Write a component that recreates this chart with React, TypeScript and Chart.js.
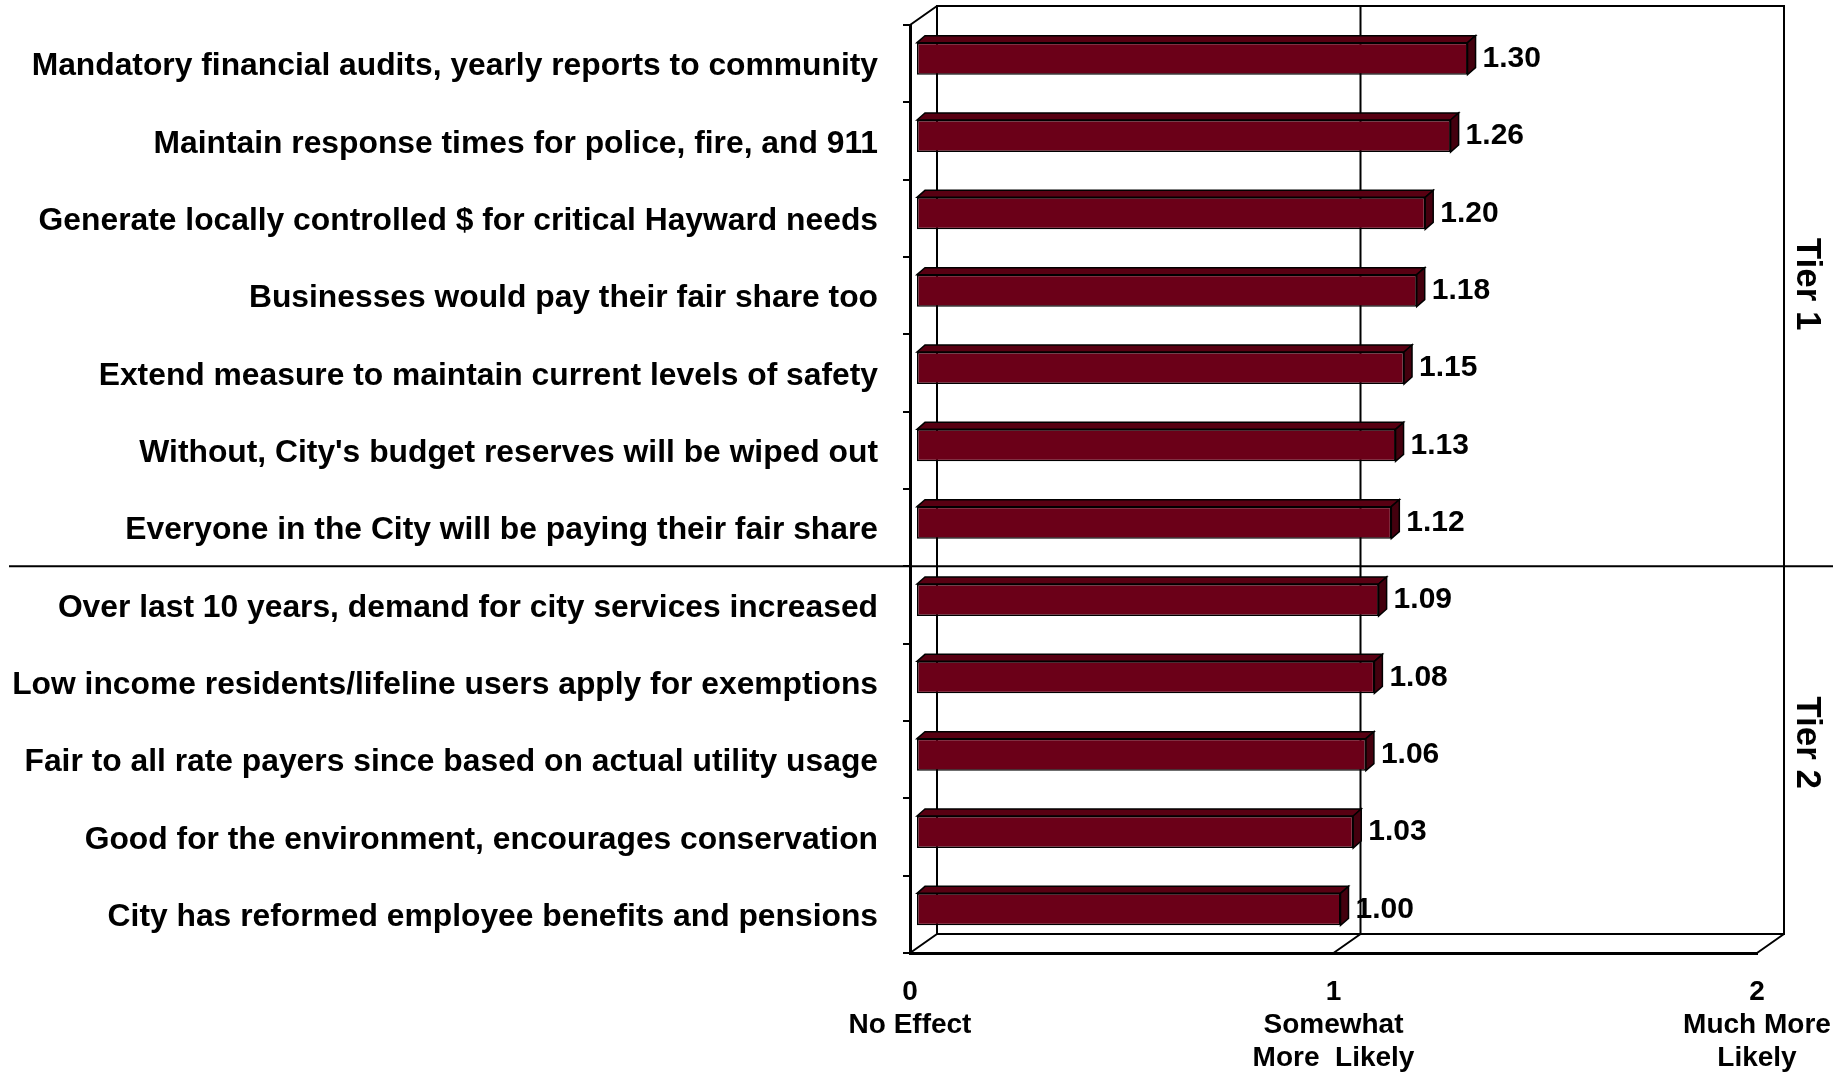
import { useEffect, useRef } from 'react';
import { Chart, registerables } from 'chart.js';

Chart.register(...registerables);

const categories = [
  'Mandatory financial audits, yearly reports to community',
  'Maintain response times for police, fire, and 911',
  'Generate locally controlled $ for critical Hayward needs',
  'Businesses would pay their fair share too',
  'Extend measure to maintain current levels of safety',
  "Without, City's budget reserves will be wiped out",
  'Everyone in the City will be paying their fair share',
  'Over last 10 years, demand for city services increased',
  'Low income residents/lifeline users apply for exemptions',
  'Fair to all rate payers since based on actual utility usage',
  'Good for the environment, encourages conservation',
  'City has reformed employee benefits and pensions',
];

const scores = [1.3, 1.26, 1.2, 1.18, 1.15, 1.13, 1.12, 1.09, 1.08, 1.06, 1.03, 1.0];

const xTickValues = [0, 1, 2];
const xTickLabels = [
  ['0', 'No Effect'],
  ['1', 'Somewhat', 'More  Likely'],
  ['2', 'Much More', 'Likely'],
];

const tierNames = ['Tier 1', 'Tier 2'];
const tierSplitIndex = 7; // first category of Tier 2

const FONT = '"Liberation Sans", Arial, Helvetica, sans-serif';
const DEPTH_X = 27;
const DEPTH_Y = -19;
const BAR_SHIFT_X = 7;
const BAR_SHIFT_Y = -5;
const FACE_X = 8;
const FACE_Y = -7;

const frame3d = {
  id: 'frame3d',
  beforeDatasetsDraw(chart: any) {
    const { ctx, chartArea: a, scales } = chart;
    const x = scales.x;
    const bl = a.left + DEPTH_X;
    const bt = a.top + DEPTH_Y;
    const br = a.right + DEPTH_X;
    const bb = a.bottom + DEPTH_Y;
    ctx.save();
    ctx.strokeStyle = '#000';
    ctx.lineWidth = 2;
    ctx.beginPath();
    ctx.moveTo(bl, bb);
    ctx.lineTo(bl, bt);
    ctx.lineTo(br, bt);
    ctx.lineTo(br, bb);
    ctx.lineTo(bl, bb);
    ctx.moveTo(bl, bb);
    ctx.lineTo(a.left, a.bottom);
    ctx.moveTo(br, bb);
    ctx.lineTo(a.right, a.bottom);
    ctx.moveTo(a.left, a.top);
    ctx.lineTo(bl, bt);
    xTickValues.forEach((v) => {
      if (v > x.min && v < x.max) {
        const px = x.getPixelForValue(v);
        ctx.moveTo(px + DEPTH_X, bt);
        ctx.lineTo(px + DEPTH_X, bb);
        ctx.lineTo(px, a.bottom);
      }
    });
    ctx.stroke();
    ctx.restore();
    ctx.save();
    ctx.translate(BAR_SHIFT_X, BAR_SHIFT_Y);
  },
  afterDatasetsDraw(chart: any) {
    const { ctx, chartArea: a, scales } = chart;
    const meta = chart.getDatasetMeta(0);
    ctx.lineWidth = 1.5;
    ctx.strokeStyle = '#000';
    ctx.lineJoin = 'miter';
    meta.data.forEach((bar: any) => {
      const { x: x1, y, base: x0, height } = bar.getProps(['x', 'y', 'base', 'height'], true);
      const top = y - height / 2;
      const bottom = y + height / 2;
      ctx.beginPath();
      ctx.moveTo(x0, top);
      ctx.lineTo(x0 + FACE_X, top + FACE_Y);
      ctx.lineTo(x1 + FACE_X, top + FACE_Y);
      ctx.lineTo(x1, top);
      ctx.closePath();
      ctx.fillStyle = '#580012';
      ctx.fill();
      ctx.stroke();
      ctx.beginPath();
      ctx.moveTo(x1, top);
      ctx.lineTo(x1 + FACE_X, top + FACE_Y);
      ctx.lineTo(x1 + FACE_X, bottom + FACE_Y);
      ctx.lineTo(x1, bottom);
      ctx.closePath();
      ctx.fillStyle = '#44000e';
      ctx.fill();
      ctx.stroke();
    });
    ctx.restore();

    ctx.save();
    ctx.fillStyle = '#000';
    ctx.font = `bold 30px ${FONT}`;
    ctx.textAlign = 'left';
    ctx.textBaseline = 'middle';
    meta.data.forEach((bar: any, i: number) => {
      ctx.fillText(scores[i].toFixed(2), bar.x + BAR_SHIFT_X + 15, bar.y + BAR_SHIFT_Y);
    });

    const yS = scales.y;
    const yDiv = (yS.getPixelForValue(tierSplitIndex - 1) + yS.getPixelForValue(tierSplitIndex)) / 2;
    ctx.strokeStyle = '#000';
    ctx.lineWidth = 2;
    ctx.beginPath();
    ctx.moveTo(9, yDiv);
    ctx.lineTo(chart.width - 10, yDiv);
    ctx.stroke();

    ctx.font = `bold 35px ${FONT}`;
    ctx.textAlign = 'center';
    ctx.textBaseline = 'middle';
    const tierCenters = [yS.getPixelForValue(2.85), yS.getPixelForValue(8.78)];
    const tx = a.right + DEPTH_X + 23;
    tierNames.forEach((name, i) => {
      ctx.save();
      ctx.translate(tx, tierCenters[i]);
      ctx.rotate(Math.PI / 2);
      ctx.fillText(name, 0, 0);
      ctx.restore();
    });
    ctx.restore();
  },
};

export default function App() {
  const canvasRef = useRef<HTMLCanvasElement | null>(null);

  useEffect(() => {
    if (!canvasRef.current) return;
    const chart = new Chart(canvasRef.current, {
      type: 'bar',
      data: {
        labels: categories,
        datasets: [
          {
            data: scores,
            backgroundColor: '#6b0018',
            borderColor: '#000',
            borderWidth: 1.5,
            borderSkipped: false,
            barPercentage: 0.414,
            categoryPercentage: 1,
            clip: false,
          } as any,
        ],
      },
      options: {
        indexAxis: 'y',
        animation: false,
        responsive: true,
        maintainAspectRatio: false,
        layout: { padding: { top: 25, right: 86, left: 0, bottom: 0 } },
        plugins: {
          legend: { display: false },
          tooltip: { enabled: false },
        },
        scales: {
          x: {
            type: 'linear',
            position: 'bottom',
            min: 0,
            max: 2,
            afterBuildTicks: (s: any) => {
              s.ticks = xTickValues.map((v) => ({ value: v }));
            },
            ticks: {
              autoSkip: false,
              maxRotation: 0,
              color: '#000',
              padding: 22.7,
              font: { family: FONT, size: 28, weight: 'bold', lineHeight: 1.18 },
              callback: (v: any) => xTickLabels[xTickValues.indexOf(Number(v))] ?? '',
            },
            grid: { display: false, drawTicks: false },
            border: { display: true, color: '#000', width: 3 },
            afterFit: (s: any) => {
              s.height = 122;
              s.paddingLeft = 0;
              s.paddingRight = 0;
            },
          },
          y: {
            ticks: {
              autoSkip: false,
              color: '#000',
              padding: 25,
              labelOffset: 3,
              font: { family: FONT, size: 31.8, weight: 'bold', lineHeight: 1.2 },
            },
            grid: {
              offset: true,
              drawOnChartArea: false,
              drawTicks: true,
              tickLength: 7,
              color: '#000',
              lineWidth: 2,
            },
            border: { display: true, color: '#000', width: 3 },
            afterFit: (s: any) => {
              s.width = 910;
              s.paddingTop = 0;
              s.paddingBottom = 0;
            },
          },
        } as any,
      },
      plugins: [frame3d],
    });
    return () => chart.destroy();
  }, []);

  return (
    <div style={{ position: 'fixed', left: 0, top: 0, width: 1843, height: 1075, background: '#fff' }}>
      <canvas ref={canvasRef} />
    </div>
  );
}
